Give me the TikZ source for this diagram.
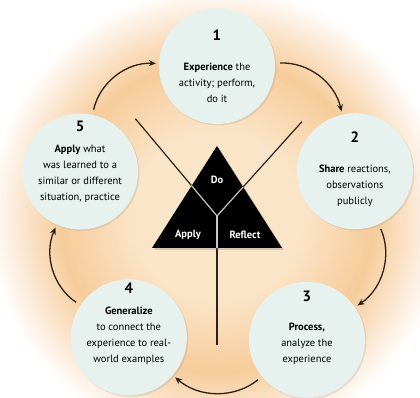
\documentclass[tikz,border=0pt]{standalone}
\usepackage{fontspec}
\setmainfont{PT Sans}
\usetikzlibrary{arrows.meta,shadows}

\definecolor{bgcore}{HTML}{FBE5C9}
\definecolor{bgring}{HTML}{F6CC9A}
\definecolor{bgfade}{HTML}{FCEBDA}
\definecolor{disc}{HTML}{E7F1ED}
\definecolor{ink}{HTML}{2B211C}

\pgfdeclareradialshading{glow}{\pgfpoint{0bp}{0bp}}{%
  color(0bp)=(bgcore); color(9bp)=(bgcore); color(17bp)=(bgring);
  color(22bp)=(bgfade); color(25bp)=(white); color(50bp)=(white)}

\newcommand{\stepno}[1]{{\fontsize{15}{16}\selectfont\bfseries #1}}

\begin{document}
\begin{tikzpicture}[x=1pt,y=1pt,
  stage/.style={circle,fill=disc,minimum size=116pt,inner sep=0pt,
    drop shadow={opacity=0.18,shadow xshift=1.5pt,shadow yshift=-1.5pt}},
  steptext/.style={align=center,inner sep=0pt,font=\fontsize{10.5}{16}\selectfont},
  flow/.style={draw=ink,line width=1.3pt,-{Stealth[length=7pt,width=6pt]},
    shorten <=5pt,shorten >=3pt,bend left=40},
  spoke/.style={draw=ink,line width=1.2pt},
  lightspoke/.style={draw=gray!45,line width=1.2pt},
  tritext/.style={text=white,font=\fontsize{10.5}{12}\selectfont\bfseries}
]
  \useasboundingbox (-217,-182) rectangle (203,216);
  \fill[white] (-217,-182) rectangle (203,216);
  \shade[shading=glow] (0,0) circle[radius=230];

  \coordinate (hub) at (0,0);
  \coordinate (tailL) at (130:127);
  \coordinate (tailR) at (48:127);
  \coordinate (tailB) at (0,-129);

  \draw[spoke] (hub) -- (tailL);
  \draw[spoke] (hub) -- (tailR);
  \draw[spoke] (hub) -- (tailB);

  % triangle in the middle
  \coordinate (apex) at (0,70);
  \coordinate (baseL) at (-65,-32);
  \coordinate (baseR) at (65,-32);
  \coordinate (baseM) at (0,-32);
  \fill[black,drop shadow={opacity=0.3,shadow xshift=2pt,shadow yshift=-2pt}]
    (apex) -- (baseL) -- (baseR) -- cycle;

  \coordinate (armL) at (130:40);
  \coordinate (armR) at (48:39);
  \draw[lightspoke] (hub) -- (armL);
  \draw[lightspoke] (hub) -- (armR);
  \draw[lightspoke] (hub) -- (baseM);

  \node[tritext] (tdo) at (0,36) {Do};
  \node[tritext] (tapply) at (-29,-19) {Apply};
  \node[tritext] (treflect) at (28,-19) {Reflect};

  \node[stage] (c1) at (90:150) {};
  \node[stage] (c2) at (18:145) {};
  \node[stage] (c3) at (-54:153) {};
  \node[stage] (c4) at (-126:150) {};
  \node[stage] (c5) at (162:144) {};

  \node[steptext] (t1) at (c1) {\stepno{1}\\[14pt]\textbf{Experience} the\\activity; perform,\\do it};
  \node[steptext,yshift=2pt] (t2) at (c2) {\stepno{2}\\[14pt]\textbf{Share} reactions,\\observations\\publicly};
  \node[steptext,yshift=12pt] (t3) at (c3) {\stepno{3}\\[13pt]\textbf{Process,}\\analyze the\\experience};
  \node[steptext,yshift=14pt] (t4) at (c4) {\stepno{4}\\[5pt]\textbf{Generalize}\\to connect the\\experience to real-\\world examples};
  \node[steptext,yshift=10pt] (t5) at (c5) {\stepno{5}\\[5pt]\textbf{Apply} what\\was learned to a\\similar or different\\situation, practice};

  \draw[flow] (c1) to (c2);
  \draw[flow] (c2) to (c3);
  \draw[flow] (c3) to (c4);
  \draw[flow] (c4) to (c5);
  \draw[flow] (c5) to (c1);
\end{tikzpicture}
\end{document}
